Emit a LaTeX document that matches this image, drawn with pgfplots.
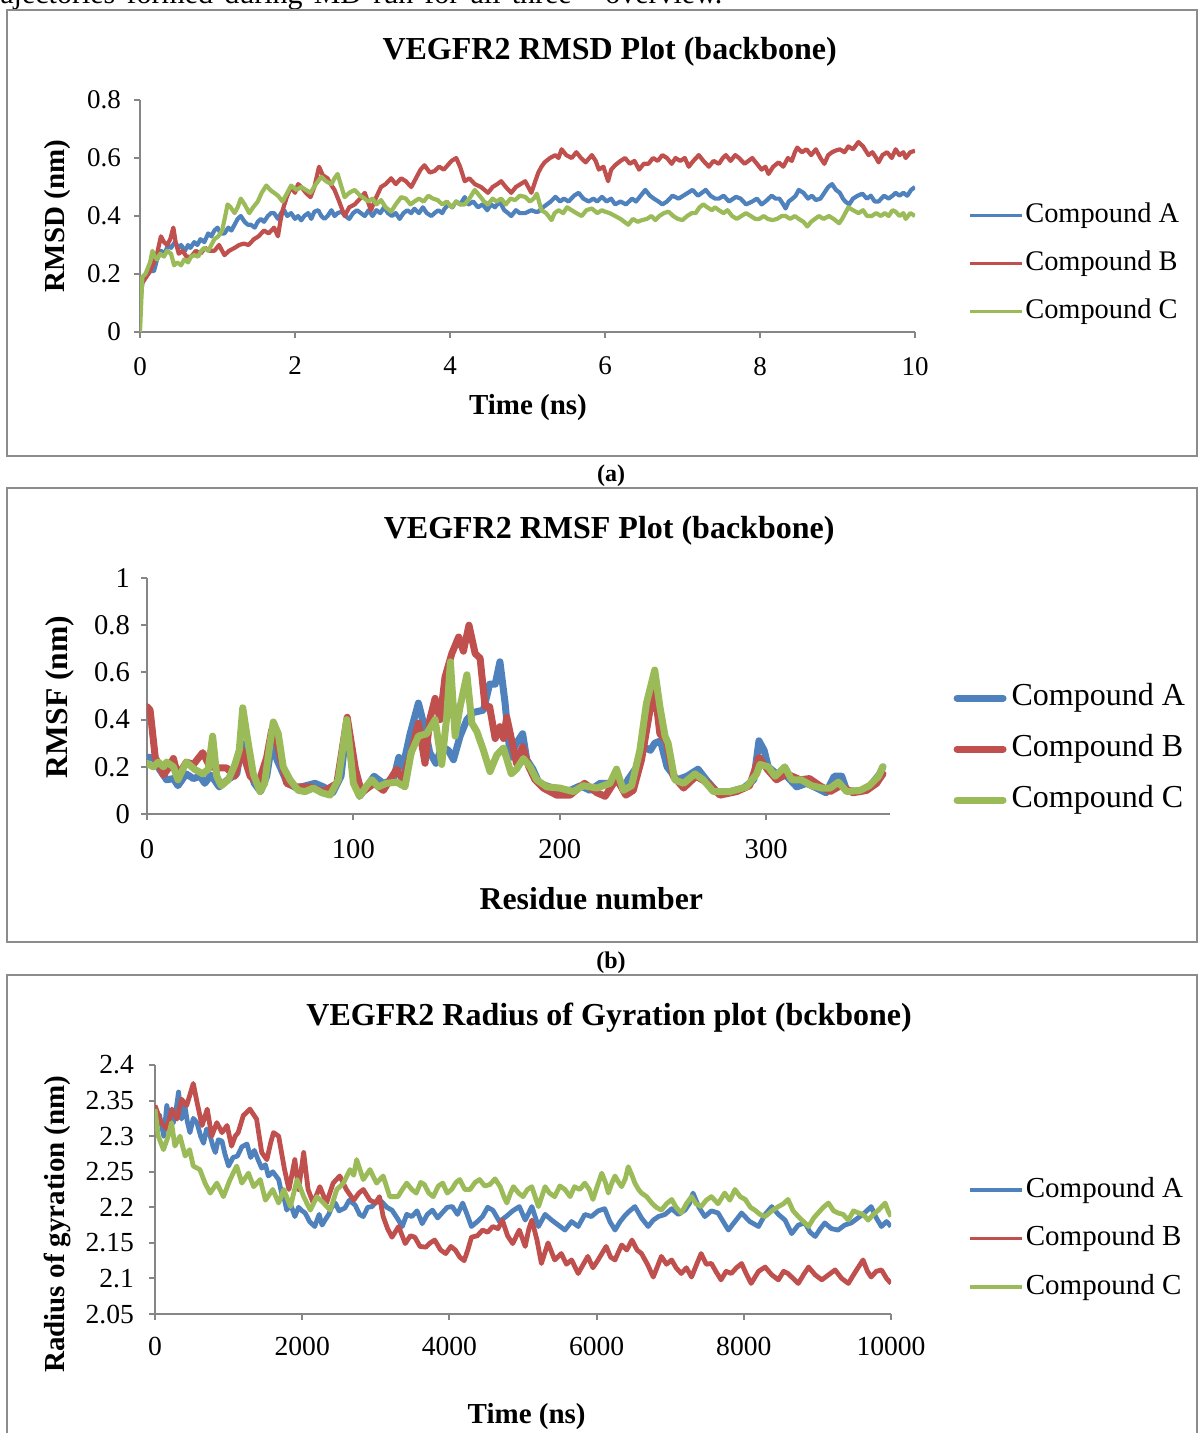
\documentclass[border=0pt]{standalone}
\usepackage{fontspec}
\setmainfont{Liberation Serif}
\usepackage{pgfplots}
\pgfplotsset{compat=1.18}
\definecolor{serA}{HTML}{4F81BD}
\definecolor{serB}{HTML}{C0504D}
\definecolor{serC}{HTML}{9BBB59}
\definecolor{axgray}{HTML}{868686}
\definecolor{boxgray}{HTML}{8C8C8C}

\pgfplotsset{
  excel/.style={
    scale only axis,
    axis x line*=bottom, axis y line*=left,
    axis line style={draw=axgray, line width=1pt, -},
    tick align=outside,
    major tick length=3pt,
    tick style={draw=axgray, line width=1pt},
    /pgf/number format/assume math mode=true,
    /pgf/number format/1000 sep={},
    scaled ticks=false,
    every axis title shift=0pt,
    legend cell align=left,
    legend style={draw=none, fill=none, anchor=west, inner sep=0pt, column sep=1pt},
    legend image code/.code={\draw[##1, line width=1.6pt] (0pt,0pt) -- (26pt,0pt);},
    title style={anchor=center, font=\bfseries\fontsize{16}{19}\selectfont},
    xlabel style={anchor=center},
    ylabel style={anchor=center},
  },
}

\begin{document}
\begin{tikzpicture}
\useasboundingbox (0pt,0pt) rectangle (599pt,-716.5pt);
\clip (0pt,0pt) rectangle (599pt,-716.5pt);

% running text cut off at the top of the page
\node[anchor=base west, inner sep=0pt, font=\fontsize{15}{18}\selectfont] at (0pt,-2pt)
  {\hbox to 361pt{ajectories\hfill formed\hfill during\hfill MD\hfill run\hfill for\hfill all\hfill three\hfill\hfill\hfill overview.}};

% frames and captions
\draw[boxgray, line width=1pt] (3.5pt,-5pt) rectangle (598.5pt,-228pt);
\draw[boxgray, line width=1pt] (3.5pt,-244pt) rectangle (598.5pt,-471pt);
\draw[boxgray, line width=1pt] (3.5pt,-487.5pt) rectangle (598.5pt,-730pt);
\node[font=\bfseries\fontsize{12}{14}\selectfont] at (305.5pt,-238pt) {(a)};
\node[font=\bfseries\fontsize{12}{14}\selectfont] at (305.5pt,-481.5pt) {(b)};

% ---------------- (a) RMSD ----------------
\begin{axis}[excel,
  at={(70pt,-166pt)}, anchor=south west,
  width=387.5pt, height=116pt,
  xmin=0, xmax=10, ymin=0, ymax=0.8,
  xtick={0,2,...,10}, ytick={0,0.2,0.4,0.6,0.8},
  ticklabel style={font=\fontsize{13.5}{16}\selectfont},
  xticklabel style={yshift=-6pt},
  yticklabel style={xshift=-3pt},
  title={VEGFR2 RMSD Plot (backbone)},
  title style={at={(axis description cs:0.606,1.207)}},
  xlabel={Time (ns)}, ylabel={RMSD (nm)},
  xlabel style={at={(axis description cs:0.5006,-0.325)}, font=\bfseries\fontsize{14.5}{17}\selectfont},
  ylabel style={at={(axis description cs:-0.1058,0.5)}, font=\bfseries\fontsize{14.5}{17}\selectfont},
  legend style={at={(axis description cs:1.068,0.297)}, font=\fontsize{14.2}{17}\selectfont,
    nodes={inner sep=0pt, text height=10pt, text depth=3pt}, row sep=11pt},
  every axis plot/.append style={line width=2.1pt, line join=round},
]
\addplot[serA] coordinates {(0,0.10) (0.03,0.17) (0.08,0.19) (0.13,0.21) (0.18,0.21) (0.22,0.25) (0.27,0.28) (0.32,0.27) (0.36,0.30) (0.4,0.29) (0.45,0.31) (0.5,0.29) (0.53,0.30) (0.58,0.28) (0.62,0.30) (0.65,0.29) (0.7,0.31) (0.74,0.30) (0.78,0.32) (0.83,0.31) (0.88,0.34) (0.92,0.33) (0.96,0.35) (1.0,0.36) (1.04,0.34) (1.09,0.34) (1.14,0.36) (1.18,0.35) (1.22,0.37) (1.26,0.39) (1.3,0.40) (1.35,0.38) (1.39,0.37) (1.43,0.37) (1.48,0.36) (1.52,0.38) (1.56,0.39) (1.6,0.38) (1.65,0.40) (1.69,0.41) (1.73,0.41) (1.78,0.39) (1.82,0.41) (1.86,0.42) (1.9,0.40) (1.95,0.41) (2.0,0.39) (2.04,0.40) (2.08,0.385) (2.12,0.40) (2.17,0.41) (2.21,0.39) (2.25,0.415) (2.3,0.42) (2.34,0.40) (2.38,0.39) (2.42,0.40) (2.47,0.42) (2.51,0.40) (2.55,0.41) (2.6,0.415) (2.65,0.40) (2.7,0.39) (2.75,0.41) (2.8,0.42) (2.85,0.41) (2.9,0.40) (2.95,0.42) (3.0,0.40) (3.05,0.42) (3.1,0.41) (3.15,0.43) (3.2,0.41) (3.25,0.40) (3.3,0.41) (3.35,0.39) (3.4,0.41) (3.45,0.42) (3.5,0.41) (3.54,0.425) (3.6,0.41) (3.65,0.43) (3.7,0.41) (3.76,0.40) (3.8,0.41) (3.85,0.42) (3.9,0.41) (3.93,0.425) (3.98,0.44) (4.03,0.43) (4.08,0.45) (4.13,0.44) (4.19,0.465) (4.24,0.44) (4.3,0.45) (4.36,0.43) (4.42,0.44) (4.48,0.42) (4.53,0.44) (4.58,0.43) (4.64,0.45) (4.7,0.42) (4.75,0.41) (4.79,0.40) (4.85,0.42) (4.9,0.41) (4.97,0.41) (5.05,0.42) (5.1,0.415) (5.14,0.415) (5.2,0.43) (5.25,0.44) (5.3,0.45) (5.36,0.466) (5.42,0.45) (5.47,0.46) (5.53,0.45) (5.6,0.47) (5.66,0.48) (5.72,0.46) (5.79,0.45) (5.85,0.46) (5.9,0.45) (5.96,0.466) (6.02,0.45) (6.08,0.46) (6.13,0.44) (6.2,0.45) (6.27,0.44) (6.35,0.46) (6.4,0.45) (6.46,0.47) (6.52,0.49) (6.58,0.47) (6.63,0.46) (6.69,0.45) (6.74,0.44) (6.8,0.45) (6.87,0.47) (6.95,0.46) (7.01,0.47) (7.07,0.48) (7.13,0.49) (7.2,0.47) (7.25,0.48) (7.3,0.49) (7.36,0.47) (7.42,0.46) (7.47,0.46) (7.53,0.47) (7.6,0.45) (7.69,0.466) (7.75,0.46) (7.82,0.44) (7.9,0.45) (7.96,0.46) (8.02,0.44) (8.07,0.45) (8.15,0.47) (8.2,0.46) (8.25,0.46) (8.3,0.44) (8.33,0.426) (8.37,0.45) (8.42,0.46) (8.46,0.47) (8.5,0.49) (8.56,0.48) (8.62,0.46) (8.67,0.47) (8.72,0.455) (8.78,0.46) (8.83,0.48) (8.88,0.50) (8.93,0.51) (8.98,0.49) (9.03,0.48) (9.07,0.46) (9.1,0.45) (9.15,0.44) (9.2,0.46) (9.26,0.47) (9.32,0.477) (9.38,0.46) (9.43,0.47) (9.48,0.45) (9.53,0.45) (9.6,0.47) (9.66,0.46) (9.71,0.47) (9.75,0.48) (9.8,0.47) (9.85,0.48) (9.9,0.47) (9.95,0.49) (10,0.50)};
\addplot[serB] coordinates {(0,0.10) (0.03,0.17) (0.08,0.19) (0.13,0.21) (0.18,0.24) (0.22,0.27) (0.27,0.33) (0.31,0.31) (0.35,0.30) (0.39,0.32) (0.43,0.36) (0.46,0.31) (0.5,0.27) (0.55,0.28) (0.6,0.26) (0.66,0.26) (0.72,0.28) (0.78,0.27) (0.84,0.29) (0.9,0.28) (0.96,0.28) (1.02,0.30) (1.09,0.265) (1.15,0.28) (1.22,0.29) (1.28,0.30) (1.34,0.305) (1.4,0.30) (1.47,0.32) (1.53,0.33) (1.6,0.35) (1.66,0.34) (1.73,0.36) (1.78,0.33) (1.81,0.38) (1.84,0.42) (1.9,0.47) (1.95,0.50) (2.0,0.48) (2.04,0.51) (2.08,0.50) (2.14,0.48) (2.2,0.465) (2.25,0.50) (2.31,0.57) (2.36,0.54) (2.42,0.53) (2.46,0.51) (2.51,0.49) (2.57,0.45) (2.64,0.40) (2.7,0.43) (2.77,0.44) (2.84,0.46) (2.9,0.48) (2.94,0.45) (2.98,0.42) (3.04,0.46) (3.11,0.50) (3.17,0.51) (3.24,0.53) (3.3,0.51) (3.37,0.53) (3.43,0.52) (3.5,0.50) (3.56,0.53) (3.62,0.56) (3.67,0.575) (3.74,0.55) (3.8,0.555) (3.86,0.57) (3.92,0.56) (3.97,0.575) (4.02,0.59) (4.08,0.60) (4.13,0.57) (4.19,0.52) (4.25,0.53) (4.32,0.51) (4.4,0.50) (4.49,0.48) (4.55,0.50) (4.61,0.51) (4.66,0.52) (4.72,0.50) (4.79,0.48) (4.85,0.50) (4.91,0.51) (4.97,0.52) (5.01,0.50) (5.05,0.48) (5.1,0.52) (5.14,0.55) (5.18,0.57) (5.22,0.585) (5.29,0.60) (5.36,0.61) (5.4,0.60) (5.44,0.63) (5.5,0.61) (5.57,0.60) (5.63,0.62) (5.69,0.60) (5.75,0.585) (5.83,0.61) (5.88,0.59) (5.92,0.56) (5.98,0.57) (6.04,0.52) (6.08,0.56) (6.13,0.575) (6.2,0.59) (6.26,0.60) (6.32,0.58) (6.38,0.59) (6.44,0.56) (6.5,0.58) (6.56,0.58) (6.62,0.60) (6.68,0.59) (6.74,0.61) (6.8,0.60) (6.86,0.58) (6.91,0.60) (6.97,0.59) (7.03,0.60) (7.08,0.57) (7.14,0.59) (7.21,0.61) (7.27,0.59) (7.34,0.57) (7.4,0.59) (7.47,0.58) (7.52,0.60) (7.56,0.61) (7.62,0.59) (7.68,0.61) (7.73,0.60) (7.8,0.58) (7.85,0.59) (7.9,0.60) (7.96,0.58) (8.02,0.56) (8.07,0.57) (8.11,0.545) (8.17,0.57) (8.24,0.585) (8.3,0.57) (8.36,0.60) (8.41,0.59) (8.45,0.62) (8.48,0.636) (8.54,0.62) (8.6,0.63) (8.66,0.61) (8.72,0.63) (8.78,0.60) (8.83,0.58) (8.88,0.61) (8.93,0.62) (8.97,0.625) (9.03,0.63) (9.09,0.62) (9.14,0.64) (9.2,0.63) (9.27,0.655) (9.33,0.64) (9.4,0.61) (9.45,0.62) (9.5,0.60) (9.53,0.585) (9.58,0.61) (9.64,0.62) (9.7,0.60) (9.75,0.63) (9.8,0.61) (9.85,0.62) (9.88,0.60) (9.94,0.62) (10,0.625)};
\addplot[serC] coordinates {(0,0) (0.03,0.19) (0.07,0.20) (0.1,0.22) (0.13,0.24) (0.16,0.28) (0.19,0.26) (0.22,0.25) (0.26,0.27) (0.31,0.26) (0.35,0.28) (0.4,0.27) (0.44,0.23) (0.48,0.24) (0.53,0.23) (0.57,0.25) (0.62,0.24) (0.66,0.26) (0.7,0.265) (0.75,0.26) (0.79,0.28) (0.83,0.29) (0.88,0.28) (0.92,0.30) (0.96,0.32) (1.01,0.33) (1.06,0.35) (1.1,0.40) (1.13,0.44) (1.17,0.43) (1.22,0.41) (1.26,0.43) (1.3,0.46) (1.35,0.44) (1.41,0.41) (1.46,0.43) (1.52,0.45) (1.57,0.48) (1.63,0.505) (1.68,0.49) (1.73,0.48) (1.78,0.47) (1.84,0.45) (1.9,0.48) (1.95,0.505) (2.02,0.49) (2.08,0.50) (2.14,0.49) (2.2,0.48) (2.27,0.51) (2.34,0.535) (2.4,0.52) (2.47,0.51) (2.51,0.53) (2.55,0.545) (2.6,0.50) (2.64,0.465) (2.7,0.48) (2.77,0.49) (2.84,0.47) (2.9,0.46) (2.94,0.45) (3.0,0.46) (3.05,0.44) (3.11,0.455) (3.17,0.43) (3.24,0.415) (3.3,0.44) (3.37,0.465) (3.43,0.46) (3.49,0.44) (3.54,0.45) (3.6,0.46) (3.66,0.45) (3.72,0.47) (3.78,0.46) (3.84,0.455) (3.9,0.44) (3.96,0.45) (4.02,0.43) (4.08,0.45) (4.13,0.44) (4.19,0.44) (4.25,0.46) (4.32,0.49) (4.38,0.47) (4.44,0.45) (4.49,0.44) (4.55,0.46) (4.6,0.45) (4.66,0.46) (4.72,0.44) (4.78,0.46) (4.84,0.455) (4.9,0.47) (4.97,0.466) (5.03,0.45) (5.08,0.46) (5.12,0.477) (5.18,0.42) (5.24,0.41) (5.31,0.386) (5.35,0.41) (5.4,0.42) (5.46,0.41) (5.51,0.43) (5.57,0.42) (5.63,0.41) (5.7,0.40) (5.76,0.42) (5.83,0.426) (5.9,0.41) (5.96,0.42) (6.0,0.415) (6.06,0.41) (6.13,0.40) (6.2,0.39) (6.25,0.38) (6.3,0.37) (6.36,0.39) (6.42,0.38) (6.48,0.386) (6.54,0.39) (6.6,0.40) (6.65,0.386) (6.7,0.40) (6.76,0.41) (6.82,0.415) (6.88,0.40) (6.94,0.39) (7.0,0.386) (7.06,0.40) (7.12,0.41) (7.17,0.41) (7.22,0.43) (7.27,0.44) (7.32,0.43) (7.38,0.42) (7.42,0.43) (7.47,0.42) (7.53,0.41) (7.58,0.42) (7.64,0.40) (7.7,0.39) (7.76,0.40) (7.82,0.41) (7.88,0.40) (7.94,0.39) (7.99,0.39) (8.05,0.40) (8.1,0.39) (8.16,0.386) (8.22,0.39) (8.28,0.40) (8.33,0.40) (8.39,0.39) (8.45,0.40) (8.5,0.39) (8.56,0.38) (8.61,0.364) (8.66,0.38) (8.71,0.39) (8.76,0.40) (8.82,0.39) (8.89,0.40) (8.95,0.39) (9.02,0.375) (9.06,0.39) (9.1,0.41) (9.14,0.43) (9.2,0.42) (9.27,0.41) (9.33,0.42) (9.38,0.40) (9.44,0.40) (9.5,0.41) (9.56,0.40) (9.61,0.41) (9.66,0.40) (9.71,0.42) (9.75,0.415) (9.8,0.40) (9.85,0.41) (9.88,0.39) (9.94,0.41) (10,0.40)};
\legend{Compound A,Compound B,Compound C}
\end{axis}

% ---------------- (b) RMSF ----------------
\begin{axis}[excel,
  at={(73.5pt,-407pt)}, anchor=south west,
  width=371.5pt, height=118pt,
  xmin=0, xmax=360, ymin=0, ymax=1,
  xtick={0,100,200,300}, ytick={0,0.2,0.4,0.6,0.8,1},
  ticklabel style={font=\fontsize{14.3}{17}\selectfont},
  xticklabel style={yshift=-6pt},
  yticklabel style={xshift=-2pt},
  title={VEGFR2 RMSF Plot (backbone)},
  title style={at={(axis description cs:0.622,1.2)}},
  xlabel={Residue number}, ylabel={RMSF (nm)},
  xlabel style={at={(axis description cs:0.598,-0.36)}, font=\bfseries\fontsize{15.9}{19}\selectfont},
  ylabel style={at={(axis description cs:-0.117,0.496)}, font=\bfseries\fontsize{15.8}{19}\selectfont},
  legend image code/.code={\draw[#1] (1.5pt,0pt) -- (24.5pt,0pt);},
  legend style={at={(axis description cs:1.085,0.275)}, font=\fontsize{16}{19}\selectfont,
    nodes={inner sep=0pt, text height=11pt, text depth=3.5pt}, row sep=11pt, column sep=2.5pt},
  every axis plot/.append style={line width=3.5pt, line join=round, line cap=round},
]
\addplot[serA] coordinates {(0,0.24) (3,0.24) (6,0.19) (9.5,0.145) (12.8,0.15) (15,0.12) (19,0.17) (22.5,0.15) (25.7,0.16) (28,0.13) (31,0.165) (35,0.115) (39,0.145) (43.5,0.17) (46,0.30) (48,0.24) (52,0.13) (55,0.095) (58,0.16) (60.5,0.30) (63,0.23) (68,0.13) (72.5,0.11) (77,0.12) (81.4,0.13) (85.5,0.115) (90,0.09) (94,0.16) (96.8,0.38) (100,0.16) (103,0.075) (106,0.11) (110,0.16) (114.5,0.13) (119.4,0.145) (122,0.24) (124,0.20) (127.5,0.34) (131.5,0.47) (134.7,0.36) (137,0.26) (140,0.215) (143,0.285) (146,0.27) (148.5,0.23) (151.7,0.33) (155,0.40) (158,0.43) (163,0.44) (166,0.55) (168.7,0.55) (171,0.645) (173.5,0.47) (176,0.24) (179,0.30) (182,0.34) (184,0.23) (187,0.19) (190,0.13) (195,0.115) (200,0.10) (205,0.10) (210,0.12) (214.6,0.10) (219.5,0.13) (224.3,0.13) (227.5,0.17) (230.8,0.10) (233,0.145) (237.4,0.20) (240.6,0.285) (243.9,0.27) (246,0.30) (248.8,0.31) (252,0.20) (256.8,0.145) (261.6,0.16) (267,0.19) (271,0.145) (276,0.095) (282.6,0.095) (289,0.11) (294,0.145) (296.5,0.31) (299,0.27) (301,0.20) (305,0.17) (310,0.16) (314.8,0.115) (319.6,0.13) (324.4,0.11) (329,0.09) (333,0.16) (336.6,0.16) (339,0.10) (345.5,0.095) (350,0.115) (355,0.17) (356.6,0.20)};
\addplot[serB] coordinates {(0,0.455) (1.5,0.44) (4,0.24) (8,0.165) (10,0.19) (12.8,0.235) (15,0.16) (19,0.22) (22.5,0.21) (27,0.26) (30.5,0.20) (35,0.195) (38.6,0.195) (42.6,0.16) (46,0.27) (50,0.16) (54,0.13) (58,0.24) (60.4,0.355) (63,0.30) (67.7,0.13) (72.5,0.115) (79,0.115) (85.5,0.095) (92,0.13) (97,0.41) (101,0.19) (104,0.09) (110,0.13) (114.5,0.10) (121,0.19) (124,0.145) (128,0.26) (131.5,0.385) (134.7,0.215) (137,0.40) (139.6,0.49) (142,0.40) (144.4,0.58) (147.7,0.68) (151,0.75) (153.3,0.69) (156,0.80) (159,0.68) (161.4,0.66) (163.8,0.455) (166,0.455) (168.7,0.32) (171,0.37) (172.7,0.32) (174.3,0.41) (177,0.30) (179,0.215) (182,0.285) (185,0.20) (188,0.145) (192,0.11) (198.5,0.08) (205,0.08) (212,0.13) (218,0.09) (222,0.075) (227.5,0.15) (232,0.08) (235.6,0.10) (239.6,0.23) (243.7,0.44) (246,0.525) (248.5,0.34) (251.7,0.31) (255,0.16) (260,0.11) (266,0.16) (272,0.13) (277.6,0.08) (285.7,0.095) (292,0.12) (296.5,0.24) (300.5,0.19) (305,0.145) (310,0.17) (316.5,0.145) (321,0.15) (326,0.12) (331,0.095) (336,0.12) (342,0.09) (348.7,0.10) (353.5,0.13) (356.6,0.17)};
\addplot[serC] coordinates {(0,0.215) (3,0.20) (5.5,0.22) (8,0.20) (9.5,0.22) (12.8,0.20) (15,0.145) (19,0.22) (23,0.19) (27,0.17) (29.7,0.19) (31.8,0.33) (33.8,0.16) (36,0.12) (39.4,0.145) (42.6,0.21) (44.7,0.27) (46.4,0.45) (48.3,0.34) (51.5,0.17) (54.8,0.095) (57,0.13) (59.6,0.30) (61.2,0.39) (63.6,0.34) (66,0.20) (69.3,0.145) (73.3,0.10) (76.6,0.095) (80.6,0.11) (84.7,0.09) (88.7,0.08) (92.7,0.145) (96.8,0.40) (100,0.13) (103,0.075) (106.5,0.12) (109,0.145) (112,0.115) (116,0.13) (121,0.135) (125,0.115) (128,0.26) (131.5,0.33) (135.5,0.34) (139.6,0.40) (142.8,0.21) (145.2,0.41) (147,0.645) (149.3,0.33) (151.7,0.455) (155,0.59) (157.4,0.385) (159.8,0.35) (163,0.27) (166.2,0.18) (169.5,0.25) (172.7,0.28) (176.5,0.17) (179,0.19) (182.4,0.235) (185.6,0.20) (188.8,0.145) (193.7,0.115) (200,0.11) (206.6,0.095) (211.4,0.12) (218,0.11) (224.3,0.13) (227.5,0.19) (230.8,0.10) (234.8,0.12) (238.8,0.27) (242,0.47) (246,0.61) (248.5,0.455) (251,0.33) (252.5,0.30) (255.7,0.145) (260,0.13) (265.5,0.17) (269.5,0.145) (274.4,0.095) (282.5,0.095) (290.5,0.115) (295.4,0.17) (297,0.21) (301,0.20) (304.3,0.16) (306.7,0.18) (309,0.20) (312.4,0.145) (317,0.145) (322,0.12) (327,0.11) (331,0.11) (335,0.135) (339,0.095) (345.5,0.10) (350,0.12) (354.5,0.16) (356.5,0.20)};
\legend{Compound A,Compound B,Compound C}
\end{axis}

% ---------------- (c) Radius of gyration ----------------
\begin{axis}[excel,
  at={(77.5pt,-657pt)}, anchor=south west,
  width=368pt, height=124.5pt,
  xmin=0, xmax=10000, ymin=2.05, ymax=2.4,
  xtick={0,2000,4000,6000,8000,10000},
  ytick={2.05,2.1,2.15,2.2,2.25,2.3,2.35,2.4},
  yticklabels={2.05,2.1,2.15,2.2,2.25,2.3,2.35,2.4},
  ticklabel style={font=\fontsize{13.8}{16}\selectfont},
  xticklabel style={yshift=-5pt},
  yticklabel style={xshift=-4pt},
  title={VEGFR2 Radius of Gyration plot (bckbone)},
  title style={at={(axis description cs:0.617,1.192)}},
  xlabel={Time (ns)}, ylabel={Radius of gyration (nm)},
  xlabel style={at={(axis description cs:0.505,-0.41)}, font=\bfseries\fontsize{14.5}{17}\selectfont},
  ylabel style={at={(axis description cs:-0.132,0.361)}, font=\bfseries\fontsize{14.5}{17}\selectfont},
  legend style={at={(axis description cs:1.105,0.303)}, font=\fontsize{14.5}{17}\selectfont,
    nodes={inner sep=0pt, text height=10pt, text depth=3pt}, row sep=11.25pt},
  every axis plot/.append style={line width=2.4pt, line join=round},
]
\addplot[serA] coordinates {(0,2.31) (60,2.33) (120,2.30) (160,2.343) (210,2.32) (250,2.319) (290,2.34) (320,2.362) (360,2.324) (405,2.343) (440,2.32) (475,2.305) (520,2.325) (570,2.319) (620,2.30) (660,2.29) (700,2.31) (750,2.30) (790,2.285) (820,2.277) (860,2.295) (910,2.293) (950,2.275) (1000,2.258) (1060,2.27) (1120,2.272) (1180,2.285) (1250,2.289) (1300,2.27) (1350,2.28) (1400,2.267) (1450,2.255) (1500,2.26) (1540,2.244) (1600,2.25) (1680,2.239) (1720,2.22) (1760,2.21) (1790,2.196) (1840,2.205) (1900,2.187) (1950,2.20) (2000,2.195) (2040,2.192) (2100,2.18) (2170,2.173) (2230,2.19) (2270,2.175) (2310,2.182) (2360,2.19) (2400,2.20) (2450,2.206) (2500,2.195) (2580,2.199) (2640,2.21) (2720,2.203) (2780,2.19) (2830,2.187) (2890,2.20) (2950,2.201) (3020,2.21) (3080,2.208) (3150,2.20) (3220,2.196) (3290,2.185) (3360,2.173) (3420,2.19) (3490,2.187) (3560,2.195) (3630,2.177) (3700,2.19) (3770,2.196) (3840,2.185) (3900,2.192) (3970,2.20) (4040,2.201) (4110,2.19) (4180,2.206) (4240,2.19) (4300,2.173) (4380,2.18) (4450,2.187) (4520,2.20) (4590,2.196) (4680,2.18) (4770,2.187) (4860,2.195) (4950,2.201) (5030,2.182) (5120,2.201) (5210,2.173) (5300,2.19) (5390,2.182) (5480,2.175) (5570,2.168) (5660,2.18) (5750,2.173) (5840,2.19) (5930,2.187) (6020,2.195) (6110,2.198) (6180,2.18) (6250,2.168) (6320,2.18) (6390,2.189) (6450,2.195) (6520,2.201) (6610,2.185) (6700,2.173) (6770,2.182) (6840,2.187) (6930,2.19) (7020,2.198) (7110,2.19) (7200,2.196) (7260,2.205) (7310,2.22) (7390,2.20) (7470,2.187) (7560,2.195) (7650,2.192) (7720,2.18) (7790,2.168) (7880,2.18) (7970,2.192) (8080,2.18) (8200,2.173) (8290,2.19) (8380,2.201) (8470,2.19) (8560,2.182) (8650,2.163) (8740,2.175) (8830,2.178) (8900,2.165) (8970,2.159) (9040,2.17) (9100,2.178) (9190,2.17) (9280,2.168) (9370,2.175) (9460,2.178) (9550,2.185) (9640,2.192) (9730,2.201) (9800,2.185) (9870,2.173) (9940,2.18) (10000,2.173)};
\addplot[serB] coordinates {(0,2.343) (80,2.32) (160,2.31) (230,2.338) (300,2.324) (360,2.352) (430,2.343) (480,2.36) (520,2.374) (570,2.348) (640,2.315) (710,2.338) (770,2.30) (840,2.319) (910,2.305) (980,2.315) (1040,2.286) (1090,2.30) (1130,2.305) (1200,2.329) (1290,2.338) (1380,2.324) (1450,2.277) (1520,2.267) (1570,2.29) (1610,2.305) (1680,2.30) (1760,2.253) (1820,2.225) (1900,2.267) (1950,2.225) (2020,2.277) (2080,2.225) (2150,2.206) (2240,2.229) (2330,2.206) (2420,2.234) (2510,2.244) (2600,2.225) (2700,2.21) (2770,2.22) (2830,2.225) (2920,2.21) (3000,2.206) (3050,2.215) (3100,2.187) (3160,2.17) (3220,2.158) (3310,2.173) (3400,2.149) (3470,2.16) (3530,2.158) (3600,2.145) (3680,2.144) (3740,2.15) (3800,2.154) (3880,2.14) (3950,2.135) (4020,2.145) (4080,2.14) (4140,2.13) (4200,2.125) (4250,2.14) (4300,2.158) (4380,2.16) (4450,2.168) (4520,2.165) (4590,2.173) (4660,2.17) (4720,2.182) (4790,2.16) (4860,2.149) (4950,2.168) (5030,2.145) (5080,2.17) (5120,2.182) (5190,2.154) (5250,2.121) (5340,2.15) (5430,2.126) (5520,2.135) (5590,2.12) (5660,2.126) (5750,2.107) (5820,2.12) (5880,2.131) (5950,2.115) (6020,2.126) (6130,2.145) (6190,2.13) (6250,2.126) (6340,2.147) (6410,2.14) (6480,2.154) (6550,2.14) (6610,2.135) (6690,2.12) (6770,2.102) (6820,2.115) (6880,2.131) (6950,2.12) (7020,2.126) (7080,2.115) (7150,2.107) (7220,2.115) (7290,2.102) (7360,2.12) (7420,2.135) (7490,2.12) (7560,2.121) (7620,2.11) (7690,2.098) (7760,2.11) (7830,2.107) (7900,2.115) (7970,2.121) (8040,2.105) (8100,2.093) (8200,2.11) (8290,2.116) (8380,2.105) (8470,2.098) (8540,2.11) (8600,2.107) (8670,2.10) (8740,2.093) (8810,2.105) (8880,2.116) (8970,2.105) (9060,2.098) (9150,2.105) (9240,2.112) (9330,2.10) (9420,2.093) (9520,2.11) (9620,2.126) (9680,2.11) (9730,2.102) (9800,2.11) (9870,2.112) (9940,2.10) (10000,2.093)};
\addplot[serC] coordinates {(0,2.338) (45,2.30) (115,2.281) (180,2.30) (225,2.319) (270,2.286) (340,2.30) (410,2.272) (470,2.281) (520,2.258) (610,2.253) (680,2.234) (750,2.22) (840,2.234) (930,2.215) (1020,2.239) (1110,2.258) (1180,2.234) (1270,2.248) (1340,2.229) (1430,2.239) (1500,2.21) (1600,2.225) (1680,2.206) (1750,2.225) (1840,2.201) (1930,2.239) (2020,2.215) (2110,2.196) (2200,2.215) (2290,2.206) (2380,2.196) (2470,2.225) (2560,2.234) (2650,2.253) (2700,2.245) (2740,2.267) (2830,2.239) (2920,2.253) (3010,2.234) (3100,2.244) (3190,2.215) (3300,2.215) (3360,2.225) (3420,2.234) (3490,2.225) (3550,2.22) (3610,2.235) (3660,2.232) (3720,2.22) (3780,2.215) (3850,2.23) (3910,2.234) (3970,2.22) (4030,2.225) (4090,2.235) (4140,2.239) (4210,2.225) (4280,2.225) (4350,2.235) (4410,2.239) (4480,2.23) (4550,2.232) (4620,2.24) (4690,2.229) (4740,2.215) (4780,2.206) (4830,2.22) (4870,2.229) (4940,2.22) (5000,2.215) (5060,2.225) (5120,2.229) (5210,2.201) (5300,2.229) (5360,2.22) (5430,2.215) (5500,2.23) (5570,2.225) (5640,2.215) (5700,2.229) (5770,2.225) (5840,2.234) (5900,2.225) (5950,2.211) (6010,2.23) (6070,2.248) (6120,2.235) (6160,2.22) (6210,2.235) (6250,2.244) (6300,2.235) (6340,2.229) (6390,2.24) (6430,2.257) (6480,2.245) (6520,2.234) (6570,2.225) (6610,2.22) (6680,2.215) (6750,2.206) (6810,2.20) (6880,2.196) (6950,2.205) (7020,2.211) (7080,2.20) (7150,2.192) (7220,2.205) (7290,2.215) (7350,2.205) (7420,2.201) (7490,2.21) (7560,2.215) (7650,2.205) (7740,2.22) (7810,2.21) (7880,2.225) (7950,2.215) (8020,2.211) (8090,2.20) (8150,2.196) (8220,2.19) (8290,2.187) (8380,2.195) (8470,2.201) (8540,2.205) (8600,2.211) (8670,2.195) (8740,2.187) (8810,2.18) (8880,2.173) (8950,2.185) (9010,2.192) (9080,2.20) (9150,2.206) (9220,2.195) (9280,2.192) (9350,2.19) (9420,2.182) (9490,2.195) (9560,2.192) (9620,2.19) (9690,2.182) (9760,2.19) (9830,2.196) (9920,2.206) (9960,2.195) (10000,2.187)};
\legend{Compound A,Compound B,Compound C}
\end{axis}
\end{tikzpicture}
\end{document}
